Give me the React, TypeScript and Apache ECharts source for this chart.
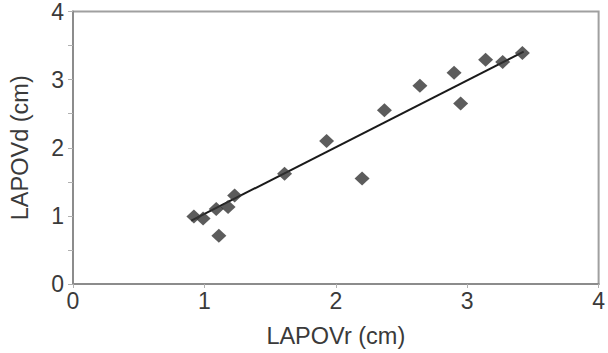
import React, { useEffect, useRef } from "react";
import * as echarts from "echarts";

const lapovR = [0.92, 0.99, 1.09, 1.11, 1.18, 1.23, 1.61, 1.93, 2.2, 2.37, 2.64, 2.9, 2.95, 3.14, 3.27, 3.42];
const lapovD = [0.99, 0.96, 1.1, 0.71, 1.13, 1.3, 1.62, 2.1, 1.55, 2.55, 2.91, 3.1, 2.65, 3.29, 3.26, 3.39];
const fitX = [0.9, 3.43];
const fitY = [0.93, 3.41];

const FONT = "'Liberation Sans', Arial, sans-serif";

export default function App() {
  const ref = useRef<HTMLDivElement>(null);
  useEffect(() => {
    if (!ref.current) return;
    const chart = echarts.init(ref.current, undefined, { renderer: "svg" });
    const axisCommon = {
      type: "value" as const,
      min: 0,
      max: 4,
      interval: 1,
      nameLocation: "middle" as const,
      nameTextStyle: { fontFamily: FONT, fontSize: 23.5, color: "#3a3a3a" },
      axisLine: { show: true, onZero: false, lineStyle: { color: "#8c8c8c", width: 2 } },
      axisLabel: { fontFamily: FONT, fontSize: 23, color: "#3a3a3a" },
      splitLine: { show: false },
    };
    chart.setOption({
      animation: false,
      backgroundColor: "#ffffff",
      grid: {
        left: 72,
        top: 10,
        right: 8,
        bottom: 67,
        show: true,
        borderColor: "#a0a0a0",
        borderWidth: 2,
        containLabel: false,
      },
      xAxis: {
        ...axisCommon,
        name: "LAPOVr (cm)",
        nameGap: 40,
        axisTick: { show: true, length: 4, lineStyle: { color: "#b0b0b0" } },
        axisLabel: { ...axisCommon.axisLabel, margin: 5 },
      },
      yAxis: {
        ...axisCommon,
        name: "LAPOVd (cm)",
        nameGap: 41,
        axisTick: { show: true, length: 5, lineStyle: { color: "#b0b0b0" } },
        minorTick: { show: true, splitNumber: 2, length: 5, lineStyle: { color: "#b0b0b0" } },
        axisLabel: { ...axisCommon.axisLabel, margin: 9 },
      },
      series: [
        {
          type: "line",
          data: fitX.map((x, i) => [x, fitY[i]]),
          symbol: "none",
          lineStyle: { color: "#1a1a1a", width: 2 },
          z: 2,
        },
        {
          type: "scatter",
          data: lapovR.map((x, i) => [x, lapovD[i]]),
          symbol: "diamond",
          symbolSize: [15, 14],
          itemStyle: { color: "#333333" },
          z: 3,
        },
      ],
    });
    return () => chart.dispose();
  }, []);
  return <div ref={ref} style={{ width: 608, height: 353, position: "absolute", left: 0, top: 0 }} />;
}
